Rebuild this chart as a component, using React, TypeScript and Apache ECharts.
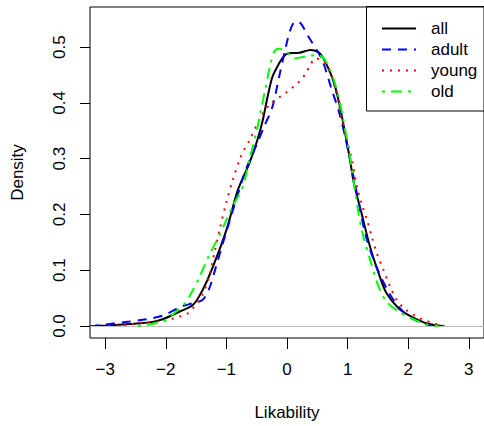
import React, { useEffect, useRef } from 'react';
import * as echarts from 'echarts';

const seriesNames = ['all', 'adult', 'young', 'old'];
const xTickValues = [-3, -2, -1, 0, 1, 2, 3];
const yTickValues = [0, 0.1, 0.2, 0.3, 0.4, 0.5];

const allDensity: number[][] = [
  [-3.25, 0], [-3.0, 0.001], [-2.54, 0.004], [-2.26, 0.0065], [-2.04, 0.0125], [-1.77, 0.026],
  [-1.55, 0.038], [-1.39, 0.065], [-1.22, 0.107], [-1.0, 0.172], [-0.81, 0.244], [-0.62, 0.292],
  [-0.49, 0.333], [-0.4, 0.369], [-0.32, 0.411], [-0.24, 0.447], [-0.13, 0.471], [-0.05, 0.484],
  [0.03, 0.489], [0.2, 0.49], [0.39, 0.495], [0.55, 0.488], [0.74, 0.447], [0.85, 0.405],
  [0.96, 0.345], [1.04, 0.298], [1.1, 0.258], [1.23, 0.202], [1.37, 0.142], [1.51, 0.095],
  [1.64, 0.059], [1.84, 0.032], [2.05, 0.017], [2.33, 0.004], [2.57, 0],
];

const adultDensity: number[][] = [
  [-3.25, 0], [-3.17, 0.0005], [-2.9, 0.004], [-2.6, 0.008], [-2.3, 0.0125], [-2.04, 0.019],
  [-1.74, 0.035], [-1.55, 0.041], [-1.39, 0.047], [-1.28, 0.068], [-1.17, 0.107], [-1.01, 0.166],
  [-0.84, 0.226], [-0.68, 0.28], [-0.49, 0.328], [-0.38, 0.357], [-0.24, 0.393], [-0.13, 0.447],
  [-0.02, 0.5], [0.04, 0.526], [0.1, 0.542], [0.17, 0.547], [0.24, 0.541], [0.32, 0.525], [0.41, 0.509],
  [0.58, 0.477], [0.74, 0.423], [0.85, 0.387], [0.96, 0.339], [1.04, 0.298], [1.13, 0.25],
  [1.29, 0.166], [1.45, 0.113], [1.67, 0.062], [1.84, 0.035], [2.05, 0.014], [2.38, 0],
];

const youngDensity: number[][] = [
  [-2.95, 0], [-2.64, 0.002], [-2.37, 0.0066], [-2.04, 0.009], [-1.77, 0.017], [-1.63, 0.023],
  [-1.52, 0.036], [-1.4, 0.055], [-1.28, 0.09], [-1.2, 0.13], [-1.1, 0.178], [-1.0, 0.222],
  [-0.9, 0.26], [-0.76, 0.304], [-0.62, 0.333], [-0.43, 0.375], [-0.27, 0.399], [-0.02, 0.418],
  [0.2, 0.438], [0.31, 0.453], [0.38, 0.467], [0.47, 0.48], [0.66, 0.468], [0.8, 0.423],
  [0.93, 0.357], [1.07, 0.298], [1.15, 0.252], [1.23, 0.22], [1.32, 0.19], [1.4, 0.16],
  [1.48, 0.131], [1.59, 0.101], [1.7, 0.071], [1.81, 0.047], [1.95, 0.03], [2.19, 0.014],
  [2.46, 0.0036], [2.6, 0],
];

const oldDensity: number[][] = [
  [-2.46, 0], [-2.21, 0.004], [-1.99, 0.011], [-1.86, 0.023], [-1.69, 0.04], [-1.61, 0.053],
  [-1.44, 0.089], [-1.28, 0.128], [-1.15, 0.155], [-1.0, 0.19], [-0.9, 0.214], [-0.73, 0.25],
  [-0.62, 0.298], [-0.51, 0.345], [-0.43, 0.387], [-0.35, 0.429], [-0.27, 0.471], [-0.21, 0.492],
  [-0.13, 0.497], [-0.02, 0.492], [0.14, 0.48], [0.28, 0.483], [0.52, 0.486], [0.69, 0.465],
  [0.85, 0.411], [1.02, 0.316], [1.07, 0.28], [1.18, 0.202], [1.26, 0.16], [1.37, 0.119],
  [1.51, 0.071], [1.64, 0.044], [1.84, 0.026], [2.11, 0.011], [2.33, 0.002], [2.5, 0],
];

const seriesData = [allDensity, adultDensity, youngDensity, oldDensity];
const seriesColors = ['#000000', '#0000ff', '#ff0000', '#00ff00'];
const seriesDash: any[] = ['solid', [9, 7], [2, 6], [3, 6, 11, 6]];

const FONT = "'Liberation Sans', Arial, Helvetica, sans-serif";

export default function App() {
  const ref = useRef<HTMLDivElement>(null);
  useEffect(() => {
    const chart = echarts.init(ref.current!, null, { renderer: 'svg' });
    const fmtX = (v: number) => (v < 0 ? '\u2212' + Math.abs(v) : String(v));
    chart.setOption({
      animation: false,
      backgroundColor: '#ffffff',
      textStyle: { fontFamily: FONT },
      grid: {
        left: 90, top: 7, right: -2, bottom: 88,
        show: true, borderColor: '#000', borderWidth: 1, backgroundColor: 'transparent',
      },
      xAxis: {
        type: 'value', min: -3.25, max: 3.25,
        name: 'Likability', nameLocation: 'middle', nameGap: 66,
        nameTextStyle: { fontSize: 17, color: '#000', fontFamily: FONT },
        axisLine: { show: false, onZero: false },
        splitLine: { show: false },
        axisTick: { show: true, length: 11, inside: false, customValues: xTickValues, lineStyle: { color: '#000', width: 1 } },
        axisLabel: { customValues: xTickValues, formatter: fmtX, fontSize: 17, color: '#000', margin: 23, fontFamily: FONT },
      },
      yAxis: {
        type: 'value', min: -0.0215, max: 0.572,
        name: 'Density', nameLocation: 'middle', nameGap: 64, nameRotate: 90,
        nameTextStyle: { fontSize: 17, color: '#000', fontFamily: FONT },
        axisLine: { show: false, onZero: false },
        splitLine: { show: false },
        axisTick: { show: true, length: 10, inside: false, customValues: yTickValues, lineStyle: { color: '#000', width: 1 } },
        axisLabel: { customValues: yTickValues, rotate: 90, formatter: (v: number) => v.toFixed(1), fontSize: 17, color: '#000', margin: 22, fontFamily: FONT },
      },
      legend: {
        orient: 'vertical', left: 381, top: 20, padding: 0,
        itemWidth: 34, itemHeight: 17, itemGap: 4,
        data: seriesNames,
        itemStyle: { opacity: 0 },
        textStyle: { fontSize: 17, lineHeight: 17, color: '#000', fontFamily: FONT, padding: [0, 0, 0, 10] },
      },
      graphic: [
        {
          type: 'rect', silent: true,
          shape: { x: 366.5, y: 6.5, width: 200, height: 104.5 },
          style: { fill: 'none', stroke: '#000', lineWidth: 1 },
        },
      ],
      series: seriesNames.map((name, i) => ({
        name, type: 'line', data: seriesData[i], showSymbol: false, symbol: 'none',
        smooth: 0.3, z: 2 + i,
        lineStyle: { color: seriesColors[i], width: 2, type: seriesDash[i] },
        itemStyle: { color: seriesColors[i] },
        ...(i === 0
          ? {
              markLine: {
                silent: true, symbol: 'none', label: { show: false },
                lineStyle: { color: '#bebebe', width: 1, type: 'solid' },
                data: [{ yAxis: 0 }],
              },
            }
          : {}),
      })),
    });
    return () => chart.dispose();
  }, []);
  return (
    <div
      ref={ref}
      style={{ position: 'fixed', left: 0, top: 0, width: 484, height: 426, background: '#fff' }}
    />
  );
}
